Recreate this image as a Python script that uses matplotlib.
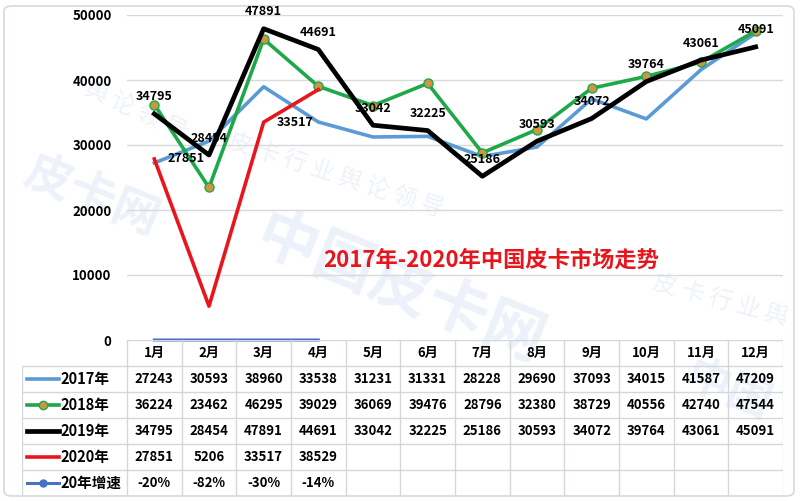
import matplotlib.pyplot as plt
from matplotlib.patches import FancyBboxPatch

plt.rcParams['font.family'] = ['Noto Sans CJK SC', 'DejaVu Sans']

months = ['1月', '2月', '3月', '4月', '5月', '6月', '7月', '8月', '9月', '10月', '11月', '12月']
s2017 = [27243, 30593, 38960, 33538, 31231, 31331, 28228, 29690, 37093, 34015, 41587, 47209]
s2018 = [36224, 23462, 46295, 39029, 36069, 39476, 28796, 32380, 38729, 40556, 42740, 47544]
s2019 = [34795, 28454, 47891, 44691, 33042, 32225, 25186, 30593, 34072, 39764, 43061, 45091]
s2020 = [27851, 5206, 33517, 38529]
growth = [-0.20, -0.82, -0.30, -0.14]
growth_txt = ['-20%', '-82%', '-30%', '-14%']
series_names = ['2017年', '2018年', '2019年', '2020年', '20年增速']
title = '2017年-2020年中国皮卡市场走势'

W, H = 800, 501
fig = plt.figure(figsize=(W / 100, H / 100), dpi=100)
fig.patch.set_facecolor('white')

# light border round the picture
fig.patches.append(FancyBboxPatch((4 / W, 5 / H), 790 / W, 490 / H,
                                  boxstyle='round,pad=0,rounding_size=0.01',
                                  transform=fig.transFigure, fill=False,
                                  ec='#d5d9de', lw=1.2, zorder=-2))

# faint watermark, kept behind everything
wm = '#edf2fa'
wm_items = [
    (0.115, 0.61, '皮卡网', 34, 'bold', -22),
    (0.50, 0.42, '中国皮卡网', 44, 'bold', -22),
    (0.17, 0.78, '舆 论 领 导', 17, 'normal', -25),
    (0.42, 0.65, '皮 卡 行 业 舆 论 领 导', 17, 'normal', -18),
    (0.90, 0.40, '皮 卡 行 业 舆', 17, 'normal', -15),
    (0.91, 0.22, '中国', 32, 'bold', -22),
]
for x, y, t, fs, fw, rot in wm_items:
    fig.text(x, y, t, fontsize=fs, fontweight=fw, color=wm, rotation=rot,
             ha='center', va='center', zorder=-1)

x0, x1 = 127, 783
ax = fig.add_axes([x0 / W, 1 - 340 / H, (x1 - x0) / W, 325 / H])
ax.patch.set_alpha(0)
ax.set_xlim(0, 12)
ax.set_ylim(0, 50000)
for s in ax.spines.values():
    s.set_visible(False)
ax.set_xticks([])
ax.set_yticks(range(0, 50001, 10000))
ax.set_yticklabels([str(v) for v in range(0, 50001, 10000)], fontsize=9.5, fontweight='bold')
ax.tick_params(axis='y', length=0, pad=11)
for v in range(10000, 50001, 10000):
    ax.axhline(v, color='#d9d9d9', lw=1, zorder=1)

xs = [i + 0.5 for i in range(12)]
c17, c18, c19, c20, cg = '#5b9bd5', '#1ea84a', '#000000', '#e8161c', '#4472c4'
ax.plot(xs, s2017, color=c17, lw=2.6, zorder=3)
ax.plot(xs, s2018, color=c18, lw=2.6, marker='o', ms=6.5, mfc='#cf9641', mec=c18, mew=1, zorder=4)
ax.plot(xs, s2019, color=c19, lw=3.4, zorder=5)
ax.plot(xs[:4], s2020, color=c20, lw=2.6, zorder=6)
ax.plot(xs[:4], growth, color=cg, lw=2.2, zorder=6, clip_on=False)

for x, v in zip(xs, s2019):
    ax.annotate(str(v), (x, v), xytext=(0, 17), textcoords='offset pixels',
                ha='center', va='center', fontsize=9, fontweight='bold', zorder=7,
                annotation_clip=False)
for i in (0, 2):
    ax.annotate(str(s2020[i]), (xs[i], s2020[i]), xytext=(13, 0), textcoords='offset pixels',
                ha='left', va='center', fontsize=9, fontweight='bold', zorder=7)

ax.text(0.555, 0.245, title, transform=ax.transAxes, fontsize=16, fontweight='bold',
        color=c20, ha='center', va='center', zorder=8)

# data table below the plot
lab_w = (x0 - 22) / ((x1 - x0) / 12)
tb = fig.add_axes([22 / W, 1 - 496 / H, (x1 - 22) / W, 156 / H])
tb.patch.set_alpha(0)
tb.set_xlim(-lab_w, 12)
tb.set_ylim(6, 0)
tb.axis('off')
gc = '#d3d7dc'
tb.plot([0, 12], [0, 0], color=gc, lw=1)
for r in range(1, 7):
    tb.plot([-lab_w, 12], [r, r], color=gc, lw=1)
tb.plot([-lab_w, -lab_w], [1, 6], color=gc, lw=1)
for c in range(13):
    tb.plot([c, c], [0, 6], color=gc, lw=1)

for i, m in enumerate(months):
    tb.text(i + 0.5, 0.5, m, ha='center', va='center', fontsize=9.5, fontweight='bold')
rows = [s2017, s2018, s2019, s2020, growth_txt]
for r, vals in enumerate(rows):
    for i, v in enumerate(vals):
        tb.text(i + 0.5, r + 1.5, str(v), ha='center', va='center', fontsize=9.5, fontweight='bold')

keys = [dict(color=c17, lw=2.6), dict(color=c18, lw=2.6, marker='o', ms=6, mfc='#cf9641', mec=c18),
        dict(color=c19, lw=3.4), dict(color=c20, lw=2.6), dict(color=cg, lw=2.2, marker='o', ms=5)]
kx0, kx1 = -lab_w + 5 / 54.67, -lab_w + 37 / 54.67
for r, (name, kw) in enumerate(zip(series_names, keys)):
    y = r + 1.5
    tb.plot([kx0, kx1], [y, y], markevery=[], **kw)
    if 'marker' in kw:
        tb.plot([(kx0 + kx1) / 2], [y], **kw)
    tb.text(kx1 + 0.02, y, name, ha='left', va='center', fontsize=10.5, fontweight='bold')

fig.savefig('out.png', dpi=100)
